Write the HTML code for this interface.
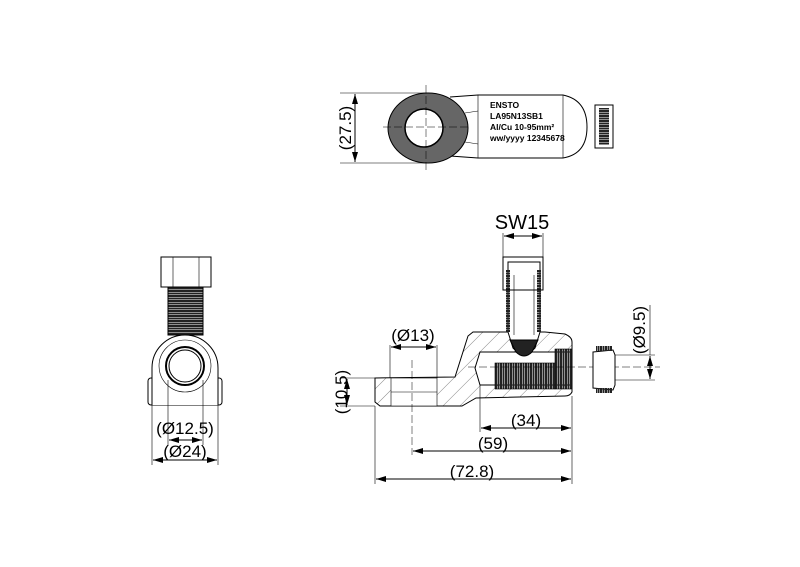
<!DOCTYPE html>
<html><head><meta charset="utf-8"><style>html,body{margin:0;padding:0;background:#fff}svg{display:block}</style></head>
<body>
<svg width="800" height="567" viewBox="0 0 800 567" xmlns="http://www.w3.org/2000/svg" font-family="Liberation Sans, sans-serif">
<defs>
<marker id="a" markerWidth="10" markerHeight="6" refX="10" refY="3" orient="auto-start-reverse" markerUnits="userSpaceOnUse"><path d="M0,0 L10,3 L0,6z" fill="#000"/></marker>
<pattern id="h" width="12" height="12" patternUnits="userSpaceOnUse" patternTransform="rotate(45)"><line x1="0" y1="0" x2="0" y2="12" stroke="#555" stroke-width="0.7"/></pattern>
<pattern id="t" width="2.5" height="4" patternUnits="userSpaceOnUse"><rect width="2" height="4" fill="#222"/></pattern>
<pattern id="tv" width="4" height="2.5" patternUnits="userSpaceOnUse"><rect width="4" height="2" fill="#222"/></pattern>
</defs>
<g stroke="#000" fill="none" stroke-width="1">
<!-- TOP VIEW -->
<line x1="340" y1="93" x2="427" y2="93" stroke-width="0.6"/>
<line x1="340" y1="163" x2="427" y2="163" stroke-width="0.6"/>
<line x1="355" y1="94" x2="355" y2="162" marker-start="url(#a)" marker-end="url(#a)"/>
<path d="M450,97 L478,95 L563,95 Q587,100 587,127 Q587,154 563,158 L478,158 L450,156" fill="#fff"/>
<line x1="478" y1="95" x2="478" y2="158" stroke-width="0.6"/>
<line x1="563" y1="95" x2="563" y2="158" stroke-width="0.6"/>
<line x1="465" y1="113" x2="478" y2="111" stroke-width="0.5"/>
<line x1="465" y1="142" x2="478" y2="144" stroke-width="0.5"/>
<ellipse cx="428" cy="128" rx="40" ry="35" fill="#666"/>
<circle cx="424" cy="128" r="19" fill="#fff" stroke-width="1.5"/>
<line x1="383" y1="127" x2="470" y2="127" stroke-width="0.5" stroke-dasharray="8,3"/>
<line x1="426" y1="85" x2="426" y2="172" stroke-width="0.5" stroke-dasharray="8,3"/>
<rect x="595" y="105" width="18" height="43" fill="#fff"/>
<rect x="599" y="108" width="10" height="37" fill="url(#tv)" stroke="none"/>
<!-- LEFT VIEW -->
<rect x="161" y="257" width="50" height="30" fill="#fff"/>
<line x1="173" y1="257" x2="173" y2="287" stroke-width="0.6"/>
<line x1="199" y1="257" x2="199" y2="287" stroke-width="0.6"/>
<rect x="168" y="287" width="35" height="48" fill="url(#tv)" stroke="#000"/>
<rect x="148" y="378" width="74" height="27" rx="3" fill="#fff"/>
<path d="M152,405 L152,368 A33,33 0 0 1 218,368 L218,405" fill="#fff"/>
<circle cx="185" cy="366" r="26" stroke-width="0.6"/>
<circle cx="185" cy="366" r="19" stroke-width="2"/>
<circle cx="185" cy="366" r="16"/>
<line x1="168" y1="380" x2="168" y2="445" stroke-width="0.6"/>
<line x1="203" y1="380" x2="203" y2="445" stroke-width="0.6"/>
<line x1="152" y1="405" x2="152" y2="465" stroke-width="0.6"/>
<line x1="218" y1="405" x2="218" y2="465" stroke-width="0.6"/>
<line x1="169" y1="440" x2="202" y2="440" marker-start="url(#a)" marker-end="url(#a)"/>
<line x1="153" y1="460" x2="217" y2="460" marker-start="url(#a)" marker-end="url(#a)"/>
<!-- MAIN VIEW -->
<line x1="503" y1="233" x2="503" y2="257" stroke-width="0.6"/>
<line x1="543" y1="233" x2="543" y2="257" stroke-width="0.6"/>
<line x1="504" y1="236" x2="542" y2="236" marker-start="url(#a)" marker-end="url(#a)"/>
<path d="M375,378 L455,377 L468,336 L473,332 L500,332 L545,332 L565,334 Q572,337 572,342 L572,392 Q570,396 565,396 L476,398 L462,406 L380,406 L375,402 Z" fill="url(#h)"/>
<rect x="391" y="378" width="46" height="28" fill="#fff" stroke-width="0.6"/>
<line x1="391" y1="392" x2="437" y2="392" stroke-width="0.5"/>
<path d="M480,352 L572,352 L572,385 L480,385 L475,368 Z" fill="#fff"/>
<rect x="495" y="363" width="60" height="26" fill="url(#t)" stroke="#000" stroke-width="0.6"/>
<rect x="555" y="349" width="17" height="40" fill="url(#t)" stroke="#000" stroke-width="0.6"/>
<path d="M508,332 L508,262 L540,262 L540,332 L535,348 Q524,360 513,348 Z" fill="#fff"/>
<path d="M510,340 L538,340 L532,352 Q524,360 516,352 Z" fill="#222"/>
<rect x="503" y="257" width="40" height="33" fill="none"/>
<rect x="506" y="270" width="4" height="62" fill="url(#tv)" stroke="none"/>
<rect x="537" y="270" width="4" height="62" fill="url(#tv)" stroke="none"/>
<line x1="514" y1="275" x2="514" y2="335" stroke-width="0.6"/>
<line x1="534" y1="275" x2="534" y2="335" stroke-width="0.6"/>
<line x1="468" y1="367" x2="660" y2="367" stroke-width="0.5" stroke-dasharray="8,3"/>
<line x1="412" y1="360" x2="412" y2="455" stroke-width="0.5" stroke-dasharray="8,3"/>
<line x1="390" y1="345" x2="390" y2="378" stroke-width="0.6"/>
<line x1="437" y1="345" x2="437" y2="378" stroke-width="0.6"/>
<line x1="391" y1="347" x2="436" y2="347" marker-start="url(#a)" marker-end="url(#a)"/>
<line x1="340" y1="378" x2="375" y2="378" stroke-width="0.6"/>
<line x1="340" y1="406" x2="375" y2="406" stroke-width="0.6"/>
<line x1="347" y1="379" x2="347" y2="405" marker-start="url(#a)" marker-end="url(#a)"/>
<line x1="375" y1="406" x2="375" y2="484" stroke-width="0.6"/>
<line x1="480" y1="385" x2="480" y2="432" stroke-width="0.6"/>
<line x1="572" y1="396" x2="572" y2="484" stroke-width="0.6"/>
<line x1="481" y1="428" x2="571" y2="428" marker-start="url(#a)" marker-end="url(#a)"/>
<line x1="413" y1="451" x2="571" y2="451" marker-start="url(#a)" marker-end="url(#a)"/>
<line x1="376" y1="479" x2="571" y2="479" marker-start="url(#a)" marker-end="url(#a)"/>
<path d="M593,352 L613,350 L615,355 L615,385 L613,390 L593,388 Z" fill="#fff"/>
<rect x="596" y="346" width="16" height="5" fill="url(#t)" stroke="none"/>
<rect x="596" y="388" width="16" height="5" fill="url(#t)" stroke="none"/>
<line x1="615" y1="355" x2="655" y2="355" stroke-width="0.6"/>
<line x1="615" y1="380" x2="655" y2="380" stroke-width="0.6"/>
<line x1="650" y1="305" x2="650" y2="355" stroke-width="0.6"/>
<line x1="650" y1="356" x2="650" y2="379" marker-start="url(#a)" marker-end="url(#a)"/>
</g>
<g fill="#000" font-size="8.5" font-weight="bold">
<text x="490" y="108">ENSTO</text>
<text x="490" y="119">LA95N13SB1</text>
<text x="490" y="130">Al/Cu 10-95mm²</text>
<text x="490" y="141">ww/yyyy 12345678</text>
</g>
<g fill="#000" font-size="17" text-anchor="middle">
<text x="522" y="229" font-size="20">SW15</text>
<text x="413" y="341">(Ø13)</text>
<text x="526" y="426">(34)</text>
<text x="493" y="449">(59)</text>
<text x="472" y="477">(72.8)</text>
<text x="185" y="434">(Ø12.5)</text>
<text x="185" y="457">(Ø24)</text>
<text transform="translate(351,128) rotate(-90)">(27.5)</text>
<text transform="translate(347,392) rotate(-90)">(10.5)</text>
<text transform="translate(645,330) rotate(-90)">(Ø9.5)</text>
</g>
</svg>
</body></html>
